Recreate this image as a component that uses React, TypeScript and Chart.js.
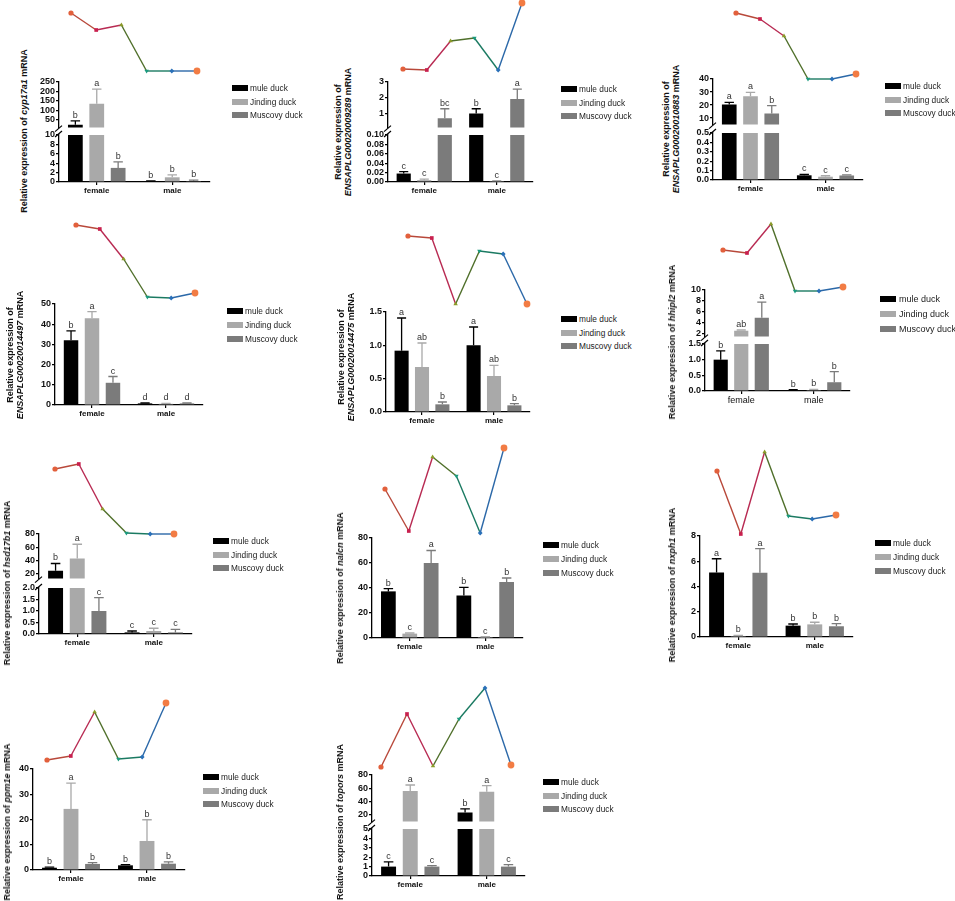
import React, { useEffect, useRef } from 'react';
import { Chart, registerables } from 'chart.js';
Chart.register(...registerables);

// ---------- shared labels ----------
const categories = ['female', 'male'];
const seriesNames = ['mule duck', 'Jinding duck', 'Muscovy duck'];

// ---------- data (rows = series: mule, Jinding, Muscovy; cols = female, male) ----------
const cyp17a1Mean = [[25, 0.15], [135, 1.0], [3.0, 0.2]];
const cyp17a1Err = [[20, 0.08], [78, 0.5], [1.3, 0.2]];
const cyp17a1Sig = [['b', 'b'], ['a', 'b'], ['b', 'b']];
const cyp17a1Trend = [58, 41, 46, 0, 0, 0];
const cyp17a1LowTicks = [0, 2, 4, 6, 8, 10];
const cyp17a1HighTicks = [50, 100, 150, 200, 250];

const e9289Mean = [[0.018, 1.0], [0.004, 0.002], [0.7, 1.92]];
const e9289Err = [[0.004, 0.3], [0.002, 0.001], [0.6, 0.63]];
const e9289Sig = [['c', 'b'], ['c', 'c'], ['bc', 'a']];
const e9289Trend = [1, 0, 29, 32, 0, 67];
const e9289LowTicks = [0, 0.02, 0.04, 0.06, 0.08, 0.1];
const e9289HighTicks = [1, 2, 3];

const e10883Mean = [[20.5, 0.05], [26.7, 0.035], [13.5, 0.048]];
const e10883Err = [[1.5, 0.01], [3, 0.01], [6, 0.007]];
const e10883Sig = [['a', 'c'], ['a', 'c'], ['b', 'c']];
const e10883Trend = [66, 60, 43, 0, 0, 5];
const e10883LowTicks = [0, 0.1, 0.2, 0.3, 0.4, 0.5];
const e10883HighTicks = [10, 20, 30, 40];

const e14497Mean = [[32, 0.8], [43, 0.6], [11, 0.8]];
const e14497Err = [[4.7, 0.2], [3.2, 0.2], [3.1, 0.2]];
const e14497Sig = [['b', 'd'], ['a', 'd'], ['c', 'd']];
const e14497Trend = [73, 69, 39, 1, 0, 5];
const e14497Ticks = [0, 10, 20, 30, 40, 50];

const e14475Mean = [[0.92, 1.0], [0.675, 0.54], [0.115, 0.1]];
const e14475Err = [[0.49, 0.275], [0.36, 0.16], [0.035, 0.025]];
const e14475Sig = [['a', 'a'], ['ab', 'ab'], ['b', 'b']];
const e14475Trend = [68, 66, 0, 53, 50, 0];
const e14475Ticks = [0, 0.5, 1.0, 1.5];

const hhipl2Mean = [[1.0, 0.03], [2.55, 0.03], [4.96, 0.28]];
const hhipl2Err = [[0.28, 0.01], [0.15, 0.02], [2.84, 0.34]];
const hhipl2Sig = [['b', 'b'], ['ab', 'b'], ['a', 'b']];
const hhipl2Trend = [41, 38, 67, 0, 0, 4];
const hhipl2LowTicks = [0, 0.5, 1.0, 1.5];
const hhipl2HighTicks = [2, 4, 6, 8, 10];

const hsd17b1Mean = [[24, 0.07], [42.7, 0.13], [1.0, 0.07]];
const hsd17b1Err = [[11, 0.06], [21.7, 0.12], [0.58, 0.13]];
const hsd17b1Sig = [['b', 'c'], ['a', 'c'], ['c', 'c']];
const hsd17b1Trend = [65, 70, 25, 1, 0, 0];
const hsd17b1LowTicks = [0, 0.5, 1.0, 1.5, 2.0];
const hsd17b1HighTicks = [20, 40, 60, 80];

const nalcnMean = [[37.3, 34], [3.5, 0.8], [60, 44.8]];
const nalcnErr = [[2.2, 6.5], [0.5, 0.2], [10, 3.2]];
const nalcnSig = [['b', 'b'], ['c', 'c'], ['a', 'b']];
const nalcnTrend = [44, 2, 76, 57, 0, 85];
const nalcnTicks = [0, 20, 40, 60, 80];

const nxph1Mean = [[5.11, 0.9], [0.08, 1.0], [5.09, 0.85]];
const nxph1Err = [[1.09, 0.13], [0.04, 0.17], [1.91, 0.21]];
const nxph1Sig = [['a', 'b'], ['b', 'b'], ['a', 'b']];
const nxph1Trend = [63, 0, 82, 18, 15, 19];
const nxph1Ticks = [0, 2, 4, 6, 8];

const ppm1eMean = [[0.9, 1.85], [24.2, 11.5], [2.4, 2.5]];
const ppm1eErr = [[0.2, 0.3], [10.2, 8.4], [0.5, 0.7]];
const ppm1eSig = [['b', 'b'], ['a', 'b'], ['b', 'b']];
const ppm1eTrend = [0, 4, 48, 1, 3, 57];
const ppm1eTicks = [0, 10, 20, 30, 40];

const toporsMean = [[1.0, 23.6], [56, 55], [1.0, 1.0]];
const toporsErr = [[0.5, 5.6], [9, 9], [0.1, 0.2]];
const toporsSig = [['c', 'b'], ['a', 'a'], ['c', 'c']];
const toporsTrend = [0, 53, 1, 48, 79, 2];
const toporsLowTicks = [0, 1, 2, 3, 4, 5];
const toporsHighTicks = [20, 40, 60, 80];

// ---------- styles ----------
const FONT = '"Liberation Sans", Arial, Helvetica, sans-serif';
const seriesColors = ['#000000', '#a9a9a9', '#7b7b7b'];
const trendLineColors = ['#b8483a', '#b82a52', '#4f6f2a', '#1b7a62', '#2b68a8'];
const trendPointColors = ['#e2603c', '#c8204e', '#8a9a28', '#1a9a7e', '#2a70b8', '#f27c44'];
const trendPointStyles = ['circle', 'rect', 'triangle', 'triangle', 'rectRot', 'circle'];
const trendPointRotation = [0, 0, 0, 180, 0, 0];
const trendPointRadius = [2.6, 2.6, 2.6, 2.6, 2.4, 3.4];

type Seg = { min: number; max: number; ticks: number[]; dec: number; top: number; bottom: number };
type PanelCfg = {
  gene: string;
  mean: number[][];
  err: number[][];
  sig: string[][];
  trend: number[];
  trendBox: [number, number, number, number];
  axisX: number;
  xEnd: number;
  lower: Seg;
  upper?: Seg;
  legend: [number, number, number];
  title: [number, number];
  twoLine?: boolean;
  plain?: boolean;
};

const panels: PanelCfg[] = [
  {
    gene: 'cyp17a1', mean: cyp17a1Mean, err: cyp17a1Err, sig: cyp17a1Sig, trend: cyp17a1Trend,
    trendBox: [71, 197, 13, 71], axisX: 59, xEnd: 210,
    lower: { min: 0, max: 10, ticks: cyp17a1LowTicks, dec: 0, top: 135, bottom: 182 },
    upper: { min: 10, max: 250, ticks: cyp17a1HighTicks, dec: 0, top: 82, bottom: 128 },
    legend: [232, 88, 13.5], title: [23.5, 131],
  },
  {
    gene: 'ENSAPLG00020009289', mean: e9289Mean, err: e9289Err, sig: e9289Sig, trend: e9289Trend,
    trendBox: [403, 522, 3, 70], axisX: 388, xEnd: 533,
    lower: { min: 0, max: 0.1, ticks: e9289LowTicks, dec: 2, top: 135, bottom: 182 },
    upper: { min: 0.1, max: 3, ticks: e9289HighTicks, dec: 0, top: 82, bottom: 128 },
    legend: [561, 89, 13.5], title: [343, 132], twoLine: true,
  },
  {
    gene: 'ENSAPLG00020010883', mean: e10883Mean, err: e10883Err, sig: e10883Sig, trend: e10883Trend,
    trendBox: [736, 856, 13, 79], axisX: 713, xEnd: 863,
    lower: { min: 0, max: 0.5, ticks: e10883LowTicks, dec: 1, top: 133, bottom: 180 },
    upper: { min: 5, max: 40, ticks: e10883HighTicks, dec: 0, top: 79, bottom: 125 },
    legend: [885, 86, 13.5], title: [671, 129], twoLine: true,
  },
  {
    gene: 'ENSAPLG00020014497', mean: e14497Mean, err: e14497Err, sig: e14497Sig, trend: e14497Trend,
    trendBox: [76, 195, 225, 298], axisX: 55, xEnd: 203,
    lower: { min: 0, max: 50, ticks: e14497Ticks, dec: 0, top: 304, bottom: 405 },
    legend: [227, 311, 14], title: [14.5, 355], twoLine: true,
  },
  {
    gene: 'ENSAPLG00020014475', mean: e14475Mean, err: e14475Err, sig: e14475Sig, trend: e14475Trend,
    trendBox: [408, 527, 236, 304], axisX: 386, xEnd: 530,
    lower: { min: 0, max: 1.5, ticks: e14475Ticks, dec: 1, top: 312, bottom: 412 },
    legend: [561, 319, 13.5], title: [346, 357], twoLine: true,
  },
  {
    gene: 'hhipl2', mean: hhipl2Mean, err: hhipl2Err, sig: hhipl2Sig, trend: hhipl2Trend,
    trendBox: [723, 843, 224, 291], axisX: 705, xEnd: 850,
    lower: { min: 0, max: 1.5, ticks: hhipl2LowTicks, dec: 1, top: 344, bottom: 391 },
    upper: { min: 1.5, max: 10, ticks: hhipl2HighTicks, dec: 0, top: 290, bottom: 337 },
    legend: [880, 299, 15], title: [672, 342], plain: true,
  },
  {
    gene: 'hsd17b1', mean: hsd17b1Mean, err: hsd17b1Err, sig: hsd17b1Sig, trend: hsd17b1Trend,
    trendBox: [55, 174, 464, 534], axisX: 39, xEnd: 192,
    lower: { min: 0, max: 2, ticks: hsd17b1LowTicks, dec: 1, top: 588, bottom: 634 },
    upper: { min: 12, max: 80, ticks: hsd17b1HighTicks, dec: 0, top: 534, bottom: 579 },
    legend: [213, 541, 13.5], title: [6.5, 583],
  },
  {
    gene: 'nalcn', mean: nalcnMean, err: nalcnErr, sig: nalcnSig, trend: nalcnTrend,
    trendBox: [385, 504, 448, 533], axisX: 372, xEnd: 523,
    lower: { min: 0, max: 80, ticks: nalcnTicks, dec: 0, top: 538, bottom: 638 },
    legend: [543, 545, 14], title: [340, 588],
  },
  {
    gene: 'nxph1', mean: nxph1Mean, err: nxph1Err, sig: nxph1Sig, trend: nxph1Trend,
    trendBox: [717, 836, 452, 534], axisX: 700, xEnd: 853,
    lower: { min: 0, max: 8, ticks: nxph1Ticks, dec: 0, top: 536, bottom: 637 },
    legend: [875, 543, 14], title: [672, 585],
  },
  {
    gene: 'ppm1e', mean: ppm1eMean, err: ppm1eErr, sig: ppm1eSig, trend: ppm1eTrend,
    trendBox: [47, 166, 703, 760], axisX: 33, xEnd: 185,
    lower: { min: 0, max: 40, ticks: ppm1eTicks, dec: 0, top: 769, bottom: 870 },
    legend: [203, 777, 13.5], title: [6.5, 822],
  },
  {
    gene: 'topors', mean: toporsMean, err: toporsErr, sig: toporsSig, trend: toporsTrend,
    trendBox: [381, 511, 688, 767], axisX: 372, xEnd: 525,
    lower: { min: 0, max: 5, ticks: toporsLowTicks, dec: 0, top: 829, bottom: 876 },
    upper: { min: 10, max: 80, ticks: toporsHighTicks, dec: 0, top: 775, bottom: 822 },
    legend: [543, 782, 13.5], title: [340, 822],
  },
];

// ---------- components ----------
function TrendChart({ values, box }: { values: number[]; box: [number, number, number, number] }) {
  const ref = useRef<HTMLCanvasElement>(null);
  const pad = 6;
  const w = box[1] - box[0] + pad * 2;
  const h = box[3] - box[2] + pad * 2;
  useEffect(() => {
    if (!ref.current) return;
    const chart = new Chart(ref.current, {
      type: 'line',
      data: {
        labels: values.map((_, i) => String(i + 1)),
        datasets: [
          {
            data: values,
            borderWidth: 1.4,
            tension: 0,
            pointStyle: trendPointStyles as any,
            pointRotation: trendPointRotation,
            pointRadius: trendPointRadius,
            pointBackgroundColor: trendPointColors,
            pointBorderColor: trendPointColors,
            pointBorderWidth: 0,
            clip: false as any,
            segment: { borderColor: (c: any) => trendLineColors[c.p0DataIndex] },
          } as any,
        ],
      },
      options: {
        animation: false,
        responsive: false,
        maintainAspectRatio: false,
        events: [],
        layout: { padding: pad },
        plugins: { legend: { display: false }, tooltip: { enabled: false } },
        scales: {
          x: { display: false, offset: false },
          y: { display: false, min: Math.min(...values), max: Math.max(...values) },
        },
      },
    });
    return () => chart.destroy();
  }, []);
  return (
    <canvas
      ref={ref}
      width={w}
      height={h}
      style={{ position: 'absolute', left: box[0] - pad, top: box[2] - pad, width: w, height: h }}
    />
  );
}

function BarSegment({ p, seg, upper, showX }: { p: PanelCfg; seg: Seg; upper: boolean; showX: boolean }) {
  const ref = useRef<HTMLCanvasElement>(null);
  const YW = 30, PT = 14, PR = 6, PB = 6, XH = 20;
  const plotW = p.xEnd - p.axisX;
  const w = YW + plotW + PR;
  const h = PT + (seg.bottom - seg.top) + (showX ? XH : PB);
  useEffect(() => {
    if (!ref.current) return;
    const hasBreak = !!p.upper;
    const tickFont = { family: FONT, size: 9, weight: 'bold' as const };
    const catFont = p.plain
      ? { family: FONT, size: 9, weight: 'normal' as const }
      : { family: FONT, size: 8, weight: 'bold' as const };
    const plugin = {
      id: 'errs',
      afterDatasetsDraw(chart: any) {
        const c = chart.ctx as CanvasRenderingContext2D;
        const yS = chart.scales.y;
        chart.data.datasets.forEach((_: any, s: number) => {
          const meta = chart.getDatasetMeta(s);
          meta.data.forEach((bar: any, i: number) => {
            const m = p.mean[s][i];
            const e = p.err[s][i];
            const inSeg = upper ? m > seg.min : m <= seg.max;
            if (!inSeg || bar.x == null) return;
            const x = bar.x;
            const bw = bar.width;
            const yBar = yS.getPixelForValue(Math.min(m, seg.max));
            const yTop = yS.getPixelForValue(Math.min(m + e, seg.max));
            c.save();
            c.strokeStyle = seriesColors[s];
            c.lineWidth = 1.3;
            c.beginPath();
            c.moveTo(x, yBar);
            c.lineTo(x, yTop);
            c.moveTo(x - bw * 0.32, yTop);
            c.lineTo(x + bw * 0.32, yTop);
            c.stroke();
            c.fillStyle = '#333';
            c.font = `9px ${FONT}`;
            c.textAlign = 'center';
            c.textBaseline = 'bottom';
            c.fillText(p.sig[s][i], x, yTop - 1);
            c.restore();
          });
        });
      },
      afterDraw(chart: any) {
        if (!hasBreak) return;
        const c = chart.ctx as CanvasRenderingContext2D;
        const a = chart.chartArea;
        c.save();
        c.strokeStyle = '#000';
        c.lineWidth = 1.2;
        c.beginPath();
        if (upper) {
          c.moveTo(a.left - 4, a.bottom + 4);
          c.lineTo(a.left + 3, a.bottom - 2);
        } else {
          c.moveTo(a.left - 4, a.top + 2);
          c.lineTo(a.left + 3, a.top - 4);
        }
        c.stroke();
        c.restore();
      },
    };
    const chart = new Chart(ref.current, {
      type: 'bar',
      data: {
        labels: categories,
        datasets: seriesNames.map((name, s) => ({
          label: name,
          data: p.mean[s].map((v) => (upper ? (v > seg.min ? v : null) : Math.min(v, seg.max))),
          backgroundColor: seriesColors[s],
          borderWidth: 0,
          barPercentage: 0.69,
          categoryPercentage: 0.85,
        })) as any,
      },
      options: {
        animation: false,
        responsive: false,
        maintainAspectRatio: false,
        events: [],
        layout: { padding: { top: PT, right: PR, bottom: showX ? 0 : PB, left: 0 } },
        plugins: { legend: { display: false }, tooltip: { enabled: false } },
        scales: {
          x: {
            display: showX,
            offset: true,
            grid: { display: true, drawOnChartArea: false, offset: false, tickLength: 3, color: '#000', lineWidth: 1.2 },
            border: { display: true, color: '#000', width: 1.3 },
            ticks: { font: catFont, color: '#111', padding: 1, maxRotation: 0 },
            afterFit: (sc: any) => { if (showX) sc.height = XH; },
          },
          y: {
            min: seg.min,
            max: seg.max,
            afterBuildTicks: (sc: any) => { sc.ticks = seg.ticks.map((v) => ({ value: v })); },
            ticks: {
              font: tickFont,
              color: '#111',
              padding: 1,
              autoSkip: false,
              callback: (v: any) => Number(v).toFixed(seg.dec),
            },
            grid: { display: true, drawOnChartArea: false, tickLength: 3, color: '#000', lineWidth: 1.2 },
            border: { display: true, color: '#000', width: 1.3 },
            afterFit: (sc: any) => { sc.width = YW; },
          },
        },
      } as any,
      plugins: [plugin],
    });
    return () => chart.destroy();
  }, []);
  return (
    <canvas
      ref={ref}
      width={w}
      height={h}
      style={{ position: 'absolute', left: p.axisX - YW, top: seg.top - PT, width: w, height: h }}
    />
  );
}

function Legend({ x, y, gap, plain }: { x: number; y: number; gap: number; plain?: boolean }) {
  return (
    <>
      {seriesNames.map((n, i) => (
        <div
          key={n}
          style={{
            position: 'absolute',
            left: x,
            top: y + i * gap - 6,
            height: 12,
            display: 'flex',
            alignItems: 'center',
            whiteSpace: 'nowrap',
          }}
        >
          <div style={{ width: 16, height: 6, background: seriesColors[i], marginRight: plain ? 3 : 2 }} />
          <span style={{ font: `${plain ? 9 : 8.3}px ${FONT}`, color: '#222' }}>{n}</span>
        </div>
      ))}
    </>
  );
}

function YTitle({ gene, cx, cy, twoLine }: { gene: string; cx: number; cy: number; twoLine?: boolean }) {
  return (
    <div
      style={{
        position: 'absolute',
        left: cx,
        top: cy,
        transform: 'translate(-50%, -50%) rotate(-90deg)',
        whiteSpace: 'nowrap',
        font: `bold 9px ${FONT}`,
        lineHeight: '10px',
        textAlign: 'center',
        color: '#111',
      }}
    >
      {twoLine ? (
        <>
          Relative expression of
          <br />
          <i>{gene}</i> mRNA
        </>
      ) : (
        <>
          Relative expression of <i>{gene}</i> mRNA
        </>
      )}
    </div>
  );
}

function Panel({ p }: { p: PanelCfg }) {
  return (
    <>
      <TrendChart values={p.trend} box={p.trendBox} />
      {p.upper && <BarSegment p={p} seg={p.upper} upper={true} showX={false} />}
      <BarSegment p={p} seg={p.lower} upper={false} showX={true} />
      <Legend x={p.legend[0]} y={p.legend[1]} gap={p.legend[2]} plain={p.plain} />
      <YTitle gene={p.gene} cx={p.title[0]} cy={p.title[1]} twoLine={p.twoLine} />
    </>
  );
}

export default function App() {
  return (
    <div
      style={{
        position: 'absolute',
        left: 0,
        top: 0,
        width: 955,
        height: 901,
        overflow: 'hidden',
        background: '#fff',
      }}
    >
      {panels.map((p) => (
        <Panel key={p.gene} p={p} />
      ))}
    </div>
  );
}
